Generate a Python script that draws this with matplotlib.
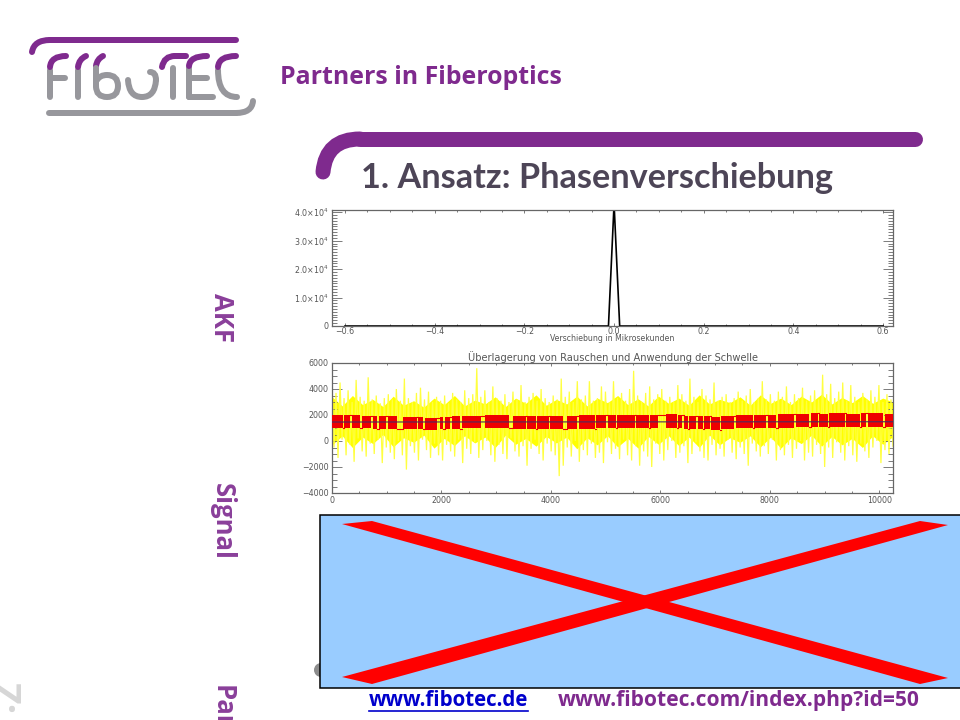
import numpy as np
import matplotlib
matplotlib.use("Agg")
import matplotlib.pyplot as plt
from matplotlib.path import Path
from matplotlib.patches import PathPatch, Polygon, Rectangle, Circle
from matplotlib.ticker import MultipleLocator, FixedLocator, FixedFormatter

PURPLE = "#7f2a8e"
LOGO_GRAY = "#97979c"
AXIS_GRAY = "#666666"
TEXT_GRAY = "#555555"

# top panel (autocorrelation)
akf_x = [-0.6, -0.0125, 0.0, 0.0125, 0.6]
akf_y = [0, 0, 43000, 0, 0]
akf_yticks = [0, 10000, 20000, 30000, 40000]
akf_ylabels = ["0", "1.0×10$^4$", "2.0×10$^4$", "3.0×10$^4$", "4.0×10$^4$"]
akf_xticks = [-0.6, -0.4, -0.2, 0.0, 0.2, 0.4, 0.6]
akf_xlabels = ["−0.6", "−0.4", "−0.2", "0.0", "0.2", "0.4", "0.6"]

# middle panel: yellow noise read as upper / lower swings
noise_up = [4600, 3700, 4500, 3300, 3900, 3000, 4700, 3400, 3100, 4900, 3200, 3500, 2900, 3300, 3600,
            3200, 4000, 3100, 4800, 3300, 3000, 3700, 4100, 3200, 3800, 3000, 3400, 3100, 3500, 2900,
            3700, 3200, 3000, 3900, 3300, 3600, 5600, 3400, 3900, 3000, 4200, 3300, 3100, 3600, 3000,
            3800, 3200, 4300, 3000, 3400, 3700, 3100, 4000, 3300, 3000, 3500, 3200, 4800, 3400, 3800,
            3000, 4600, 3200, 3500, 4600, 3100, 3300, 4200, 3800, 3000, 4600, 3300, 3700, 3100, 4000,
            5400, 3500, 3000, 3700, 4200, 3200, 3600, 4000, 3100, 3400, 3000, 4300, 3600, 3100, 4800,
            3400, 3000, 4000, 3500, 3200, 4500, 3100, 3400, 3600, 3000, 3300, 3800, 3100, 3500, 4000,
            3000, 3300, 4600, 3200, 3600, 3100, 3800, 3400, 4200, 3000, 3600, 3300, 4100, 3100, 3500,
            3900, 3200, 5100, 3600, 4400, 3300, 3800, 4500, 3100, 4300, 3400, 3000, 3700, 3200, 3900,
            3400, 4300, 3000, 3600, 3200]
noise_lo = [-500, -1300, 100, -1100, -300, -1600, 200, -800, -1200, -200, -1000, 100, -1700, -500, -900,
            -1400, 0, -1100, -2200, -400, -900, -1500, 100, -700, -1300, -200, -1100, -1500, -300, -800,
            -1200, 100, -1700, -600, -1000, -100, -1300, -700, 0, -1100, -1600, -300, -1000, -1400, 200,
            -800, -1200, -400, -1900, -600, 100, -1000, -1500, -200, -800, -1100, -2700, -1900, -500, -1200,
            0, -1600, -700, -1100, -200, -1300, -900, -1700, -100, -1000, -600, -1400, 100, -1100, -1500,
            -400, -1900, -800, -1200, -2000, -200, -1000, -1500, -700, 0, -1300, -900, -400, -1700, -1000,
            -100, -800, -1300, -1500, -300, -1100, -600, -1200, 100, -900, -1400, -500, -1000, -1900, -200,
            -800, -1200, -400, -1000, 100, -1500, -700, -1100, -300, -1300, -600, 0, -1500, -900, -1200,
            -300, -1000, -2000, -500, -1300, -100, -900, -1500, -400, -1100, -1600, -200, -800, -1300, -500,
            0, -1700, -700, -1000, -400]
# solid part of the yellow band, jagged at its edges
core_hi = [3400, 2700, 3500, 2800, 3200, 2650, 3450, 2750, 3100, 2600, 3300, 2800, 3500, 2700, 3150, 2850,
           3400, 2650, 3300, 2900, 3550, 2750, 3200, 2850, 3450, 2700, 3300, 2950, 3500, 2800, 3250, 2700,
           3450, 2900, 3300, 2750, 3550, 2850, 3200, 2950, 3400, 2750, 3550, 2900, 3300, 2800, 3450, 3000,
           3600, 2850, 3350, 2950, 3500, 2900, 3300, 3000]
core_lo = [-300, 400, -500, 300, -200, 500, -450, 250, -100, 450, -550, 200, -350, 400, -150, 300,
           -500, 450, -250, 200, -400, 350, -150, 300, -600, 250, -300, 400, -450, 200, -550, 350,
           -250, 400, -350, 300, -500, 450, -300, 250, -100, 400, -450, 300, -550, 250, -200, 450,
           -400, 350, -300, 200, -500, 400, -250, 350]

# red threshold signal: solid stretches
red_start = [0, 220, 360, 545, 755, 850, 1015, 1290, 1575, 1700, 1975, 2065, 2185, 2370, 2795,
             3300, 3570, 3750, 3990, 4300, 4510, 4830, 5035, 5205, 5555, 5815, 6095, 6330, 6425, 6525,
             6680, 6800, 6925, 7110, 7385, 7715, 7960, 8140, 8475, 8750, 8905, 9085, 9390, 9665, 9785,
             10100]
red_end = [205, 330, 510, 720, 825, 995, 1190, 1545, 1665, 1910, 2030, 2150, 2335, 2730, 3230,
           3540, 3720, 3960, 4220, 4480, 4800, 5010, 5180, 5530, 5790, 5960, 6300, 6400, 6500, 6650,
           6770, 6900, 7080, 7350, 7690, 7930, 8110, 8450, 8720, 8880, 9060, 9365, 9640, 9760, 10065,
           10250]
red_low = [980, 1000, 990, 970, 960, 950, 950, 930, 900, 870, 900, 930, 950, 970, 990,
           960, 950, 950, 960, 960, 960, 970, 980, 990, 980, 990, 990, 970, 950, 920,
           900, 890, 880, 900, 970, 990, 970, 1030, 1040, 1060, 1070, 1070, 1060, 1080, 1090,
           1080]
red_high = [1980, 2000, 1970, 1930, 1900, 1900, 1890, 1870, 1830, 1800, 1820, 1860, 1900, 1940, 1990,
            1930, 1900, 1930, 1950, 1960, 1970, 2000, 2000, 2010, 1990, 2030, 2040, 1980, 1950, 1920,
            1900, 1890, 1880, 1920, 1990, 2000, 2000, 2060, 2090, 2130, 2110, 2120, 2110, 2150, 2150,
            2080]
threshold_x = [0, 10250]
threshold_y = [1460, 1480]

sig_xticks = [0, 2000, 4000, 6000, 8000, 10000]
sig_yticks = [-4000, -2000, 0, 2000, 4000, 6000]
sig_ylabels = ["−4000", "−2000", "0", "2000", "4000", "6000"]


def px_axes(fig, left, top, right, bottom):
    return fig.add_axes([left / 960, 1 - bottom / 720, (right - left) / 960, (bottom - top) / 720])


def style_idl(ax):
    for s in ax.spines.values():
        s.set_color(AXIS_GRAY)
        s.set_linewidth(0.9)
    ax.tick_params(which="major", direction="in", length=7, width=0.6, color=AXIS_GRAY,
                   top=True, right=True, labelsize=5.7, labelcolor=TEXT_GRAY, pad=2.5)
    ax.tick_params(which="minor", direction="in", length=3.5, width=0.6, color=AXIS_GRAY,
                   top=True, right=True)
    ax.tick_params(axis="x", which="major", length=2.5)
    ax.tick_params(axis="x", which="minor", length=1.5)


def stroke(ax, pts, color, lw_px, curved=True):
    # quadratic chain: start, ctrl, end, ctrl, end ...
    codes = [Path.MOVETO]
    if curved:
        codes += [Path.CURVE3] * (len(pts) - 1)
    else:
        codes += [Path.LINETO] * (len(pts) - 1)
    ax.add_patch(PathPatch(Path(pts, codes), fc="none", ec=color, lw=lw_px * 0.72, capstyle="round"))


plt.rcParams["font.family"] = ["DejaVu Sans"]
fig = plt.figure(figsize=(9.6, 7.2), dpi=100, facecolor="white")

# --- autocorrelation panel
ax1 = px_axes(fig, 332, 210, 893, 326)
ax1.plot(akf_x, akf_y, color="black", lw=1.2)
ax1.set_xlim(-0.629, 0.622)
ax1.set_ylim(0, 40800)
ax1.xaxis.set_major_locator(FixedLocator(akf_xticks))
ax1.xaxis.set_major_formatter(FixedFormatter(akf_xlabels))
ax1.xaxis.set_minor_locator(MultipleLocator(0.05))
ax1.yaxis.set_major_locator(FixedLocator(akf_yticks))
ax1.yaxis.set_major_formatter(FixedFormatter(akf_ylabels))
ax1.yaxis.set_minor_locator(MultipleLocator(1000))
style_idl(ax1)
ax1.tick_params(axis="x", which="major", pad=1)
ax1.set_xlabel("Verschiebung in Mikrosekunden", fontsize=5.6, color=TEXT_GRAY, labelpad=-1.5)

# --- signal panel
ax2 = px_axes(fig, 332, 363, 893, 493)
noise_x = np.linspace(0, 10250, 2 * len(noise_up))
noise_y = np.empty(2 * len(noise_up))
noise_y[0::2] = noise_up
noise_y[1::2] = noise_lo
ax2.plot(noise_x, noise_y, color="#ffff40", lw=0.9, solid_joinstyle="miter")
core_x = np.linspace(0, 10250, len(core_hi))
ax2.fill_between(core_x, core_lo, core_hi, color="#ffff00", lw=0)
for i, (s, e, lo, hi) in enumerate(zip(red_start, red_end, red_low, red_high)):
    ax2.bar(s, hi - lo, bottom=lo, width=e - s, align="edge", color="#ee0000", lw=0, zorder=3)
    if i + 1 < len(red_start):
        next_s = red_start[i + 1]
        level = hi if i % 2 else lo
        ax2.plot([e, next_s], [level, level], color="#ee0000", lw=0.8, zorder=3)
ax2.plot(threshold_x, threshold_y, color="#4a2a5e", lw=0.8, zorder=4)
ax2.set_xlim(0, 10250)
ax2.set_ylim(-4000, 6000)
ax2.set_xticks(sig_xticks)
ax2.xaxis.set_minor_locator(MultipleLocator(500))
ax2.set_yticks(sig_yticks)
ax2.set_yticklabels(sig_ylabels)
ax2.yaxis.set_minor_locator(MultipleLocator(500))
style_idl(ax2)
ax2.set_title("Überlagerung von Rauschen und Anwendung der Schwelle", fontsize=7.1,
              color=TEXT_GRAY, pad=1)

# --- slide furniture in pixel coordinates
page = fig.add_axes([0, 0, 1, 1], zorder=10)
page.set_xlim(0, 960)
page.set_ylim(720, 0)
page.axis("off")
page.patch.set_alpha(0)

# logo
LOGO_LW = 6
stroke(page, [(32, 52), (34, 40), (50, 40)], PURPLE, LOGO_LW)
stroke(page, [(50, 40), (236, 40)], PURPLE, LOGO_LW, curved=False)
stroke(page, [(49, 113), (236, 113)], LOGO_GRAY, LOGO_LW, curved=False)
stroke(page, [(236, 113), (252, 113), (253, 101)], LOGO_GRAY, LOGO_LW)
# F
stroke(page, [(50, 97), (50, 70)], LOGO_GRAY, LOGO_LW, curved=False)
stroke(page, [(50, 67), (51, 56), (66, 56)], PURPLE, LOGO_LW)
stroke(page, [(50, 78), (65, 78)], LOGO_GRAY, LOGO_LW, curved=False)
# i
stroke(page, [(78, 97), (78, 70)], LOGO_GRAY, LOGO_LW, curved=False)
stroke(page, [(78, 67), (79, 59), (86, 56)], PURPLE, LOGO_LW)
# b
stroke(page, [(96, 66), (97, 59), (103, 56)], PURPLE, LOGO_LW)
stroke(page, [(96, 68), (96, 86)], LOGO_GRAY, LOGO_LW, curved=False)
stroke(page, [(96, 86), (96, 97), (107, 97), (118, 97), (118, 86), (118, 75), (107, 75), (100, 75), (97, 80)], LOGO_GRAY, LOGO_LW)
# o
stroke(page, [(128, 80), (129, 97), (142, 97), (155, 97), (156, 80)], LOGO_GRAY, LOGO_LW)
stroke(page, [(156, 80), (156, 72), (150, 72)], LOGO_GRAY, LOGO_LW)
# T
stroke(page, [(173, 97), (173, 68)], LOGO_GRAY, LOGO_LW, curved=False)
stroke(page, [(162, 67), (164, 56), (175, 56)], PURPLE, LOGO_LW)
stroke(page, [(175, 56), (186, 56)], PURPLE, LOGO_LW, curved=False)
# E
stroke(page, [(189, 97), (213, 97)], LOGO_GRAY, LOGO_LW, curved=False)
stroke(page, [(189, 97), (189, 68)], LOGO_GRAY, LOGO_LW, curved=False)
stroke(page, [(189, 66), (190, 56), (207, 56)], PURPLE, LOGO_LW)
stroke(page, [(189, 78), (207, 78)], LOGO_GRAY, LOGO_LW, curved=False)
# C
stroke(page, [(218, 70), (218, 97), (237, 97)], LOGO_GRAY, LOGO_LW)
stroke(page, [(218, 67), (219, 56), (236, 56)], PURPLE, LOGO_LW)

page.text(280, 84, "Partners in Fiberoptics", color=PURPLE, fontsize=17.9, fontweight="bold",
          family="Open Sans", va="baseline")

# heading bar
stroke(page, [(323, 172), (326, 139), (360, 139)], PURPLE, 15)
stroke(page, [(360, 139), (915, 139)], PURPLE, 15, curved=False)
page.text(361, 188, "1. Ansatz: Phasenverschiebung", color="#4d4557", fontsize=24.7, fontweight="bold",
          family="Lato", va="baseline")

# rotated side labels
side_color = "#8a3f9a"
for label, top in zip(["AKF", "Signal", "Partner"], [293, 483, 685]):
    page.text(222, top, label, rotation=-90, color=side_color, fontsize=18.5, fontweight="bold",
              family="Open Sans", ha="center", va="top")
page.text(2, 682, "Z:", rotation=-90, color="#d6d6d6", fontsize=27, fontweight="bold",
          family="Open Sans", ha="center", va="top")

# covered placeholder
page.add_patch(Circle((321, 670), 7, color="#8c8c8c", lw=0))
page.add_patch(Rectangle((320, 515), 650, 173, fc="#99ccff", ec="black", lw=1.1))
page.add_patch(Polygon([(342, 524), (372, 521), (948, 678), (920, 684)], color="#ff0000", lw=0))
page.add_patch(Polygon([(342, 677), (372, 684), (948, 525), (920, 521)], color="#ff0000", lw=0))

# links
page.text(369, 706, "www.fibotec.de", color="#0000cc", fontsize=14.8, fontweight="bold",
          family="Open Sans", va="baseline")
page.plot([369, 528], [711, 711], color="#0000cc", lw=1.2)
page.text(558, 706, "www.fibotec.com/index.php?id=50", color=PURPLE, fontsize=15.1, fontweight="bold",
          family="Open Sans", va="baseline")
page.set_xlim(0, 960)
page.set_ylim(720, 0)

fig.savefig("out.png", dpi=100)
